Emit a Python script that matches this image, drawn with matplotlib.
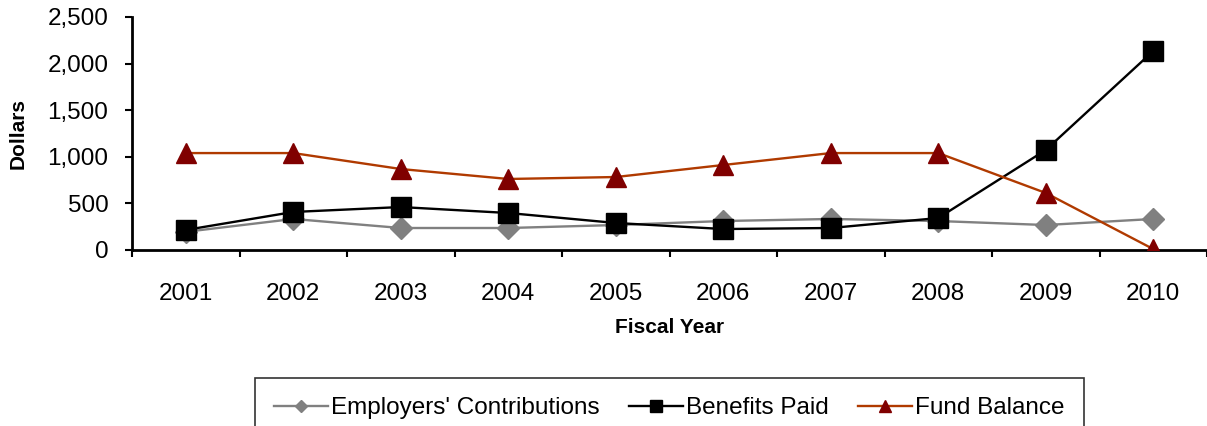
import matplotlib.pyplot as plt
import numpy as np
from matplotlib.ticker import FuncFormatter

years = ["2001", "2002", "2003", "2004", "2005", "2006", "2007", "2008", "2009", "2010"]
employers = [195, 333, 236, 236, 268, 311, 333, 311, 268, 333]
benefits = [215, 408, 461, 397, 290, 225, 236, 343, 1073, 2135]
fund_balance = [1040, 1040, 869, 762, 783, 912, 1040, 1040, 612, 10]

plt.rcParams["font.family"] = ["Liberation Sans", "DejaVu Sans"]

fig = plt.figure(figsize=(12.07, 4.26), dpi=100)
ax = fig.add_axes([132 / 1207, 1 - 250 / 426, 1 - 132 / 1207, 233 / 426])

x = np.arange(len(years))
ax.plot(x, employers, color="#808080", lw=1.7, marker="D", ms=11,
        mfc="#808080", mec="#808080", label="Employers' Contributions", zorder=3)
ax.plot(x, benefits, color="black", lw=1.7, marker="s", ms=14,
        mfc="black", mec="black", label="Benefits Paid", zorder=4)
ax.plot(x, fund_balance, color="#B03A00", lw=1.7, marker="^", ms=15,
        mfc="#800000", mec="#800000", label="Fund Balance", zorder=5)

ax.set_ylim(0, 2500)
ax.set_yticks(np.arange(0, 2501, 500))
ax.yaxis.set_major_formatter(FuncFormatter(lambda v, p: f"{int(v):,}"))
ax.set_xlim(-0.5, len(years) - 0.5)
ax.set_xticks(np.arange(-0.5, len(years), 1.0))
ax.set_xticklabels([])
ax.set_xticks(x, minor=True)
ax.set_xticklabels(years, minor=True)

for s in ["top", "right"]:
    ax.spines[s].set_visible(False)
for s in ["left", "bottom"]:
    ax.spines[s].set_linewidth(2)
ax.tick_params(axis="y", which="major", length=5, width=1.5, labelsize=17.5, pad=12)
ax.tick_params(axis="x", which="major", length=5, width=1.5, direction="out")
ax.tick_params(axis="x", which="minor", length=0, labelsize=17.5, pad=24)

ax.set_ylabel("Dollars", fontsize=15, fontweight="bold", labelpad=14)
ax.set_xlabel("Fiscal Year", fontsize=15, fontweight="bold", labelpad=9)

leg = ax.legend(loc="upper center", bbox_to_anchor=(0.5, -0.548), ncol=3,
                frameon=True, fancybox=False, edgecolor="black",
                prop={"size": 17.5}, markerscale=0.6, handlelength=2.2,
                columnspacing=1.2, handletextpad=0.15, borderpad=0.8,
                borderaxespad=0)
leg.get_frame().set_linewidth(1.2)

fig.savefig("out.png", dpi=100)
